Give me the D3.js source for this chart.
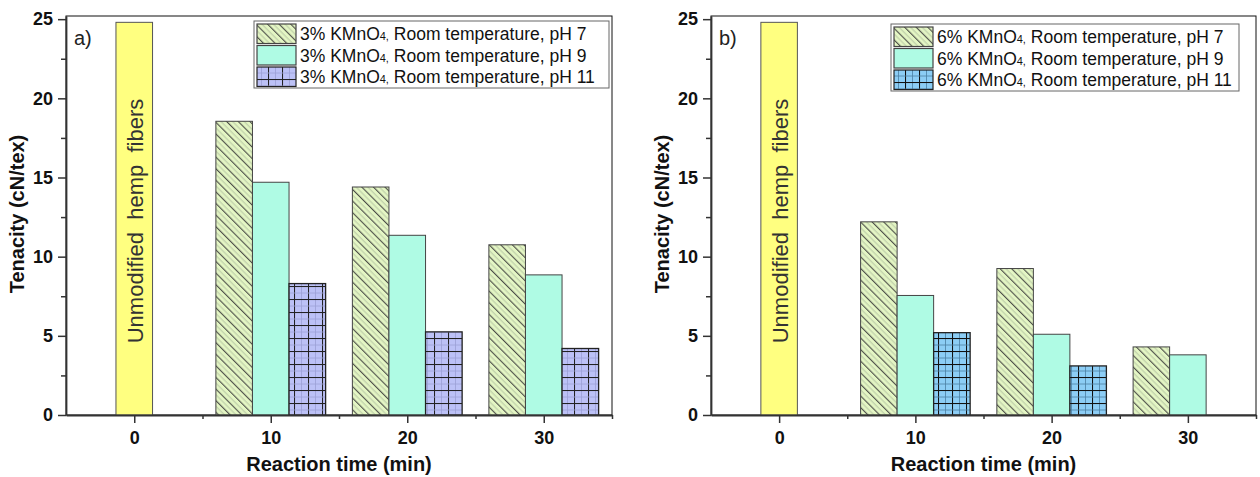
<!DOCTYPE html>
<meta charset="utf-8">
<style>
html, body { margin: 0; padding: 0; background: #fff; overflow: hidden; }
svg { display: block; font-family: "Liberation Sans", Arial, sans-serif; }
.tick text { font-weight: bold; font-size: 18px; fill: #111; }
.title { font-weight: bold; font-size: 20px; fill: #111; }
</style>
<svg width="1260" height="477"></svg>
<script src="https://d3js.org/d3.v7.min.js"></script>
<script>
// values (cN/tex)
var times = [10, 20, 30];
var controlValue = 24.8;
var xTicks = [0, 10, 20, 30];
var xMinor = [5, 15, 25, 35];
var yTicks = [0, 5, 10, 15, 20, 25];
var yMinor = [2.5, 7.5, 12.5, 17.5, 22.5];

var panelA_pH7 = [18.55, 14.4, 10.75];
var panelA_pH9 = [14.7, 11.35, 8.85];
var panelA_pH11 = [8.3, 5.25, 4.2];

var panelB_pH7 = [12.2, 9.25, 4.3];
var panelB_pH9 = [7.55, 5.1, 3.8];
var panelB_pH11 = [5.2, 3.1, null];

var svg = d3.select("svg");
var defs = svg.append("defs");

// diagonal hatch "\\"
var hw = 8.2;
var hatch = defs.append("pattern")
    .attr("id", "hatch")
    .attr("patternUnits", "userSpaceOnUse")
    .attr("width", hw).attr("height", hw)
    .attr("patternTransform", "rotate(-45)");
hatch.append("rect").attr("width", hw).attr("height", hw).attr("fill", "#e4f6c4");
hatch.append("line").attr("x1", 0.6).attr("x2", 0.6).attr("y1", 0).attr("y2", hw)
    .attr("stroke", "#3a3a3a").attr("stroke-width", 1);
hatch.append("line").attr("x1", 4.7).attr("x2", 4.7).attr("y1", 0).attr("y2", hw)
    .attr("stroke", "#b3c1a0").attr("stroke-width", 0.9);

function gridPattern(id, fill, dark, light) {
    var p = defs.append("pattern")
        .attr("id", id)
        .attr("patternUnits", "userSpaceOnUse")
        .attr("width", 14).attr("height", 13);
    p.append("rect").attr("width", 14).attr("height", 13).attr("fill", fill);
    p.append("line").attr("x1", 0.5).attr("x2", 0.5).attr("y1", 0).attr("y2", 13)
        .attr("stroke", dark).attr("stroke-width", 1.1);
    p.append("line").attr("x1", 7.5).attr("x2", 7.5).attr("y1", 0).attr("y2", 13)
        .attr("stroke", light).attr("stroke-width", 0.8);
    p.append("line").attr("x1", 0).attr("x2", 14).attr("y1", 0.5).attr("y2", 0.5)
        .attr("stroke", dark).attr("stroke-width", 1.1);
    p.append("line").attr("x1", 0).attr("x2", 14).attr("y1", 7).attr("y2", 7)
        .attr("stroke", light).attr("stroke-width", 0.8);
}
gridPattern("gridA", "#bcc1f6", "#222", "#9ca0d6");
gridPattern("gridB", "#8ccdf5", "#111", "#4a7fa3");

function drawPanel(opts) {
    var g = svg.append("g");
    var x = d3.scaleLinear().domain([-5, 35]).range([opts.x0, opts.x1]);
    var y = d3.scaleLinear().domain([0, 25.2]).range([415, 16]);
    var bw = x(2.68) - x(0);

    var series = [
        {values: opts.pH7, fill: "url(#hatch)", stroke: "#444", label: "pH 7"},
        {values: opts.pH9, fill: "#affbe4", stroke: "#444", label: "pH 9"},
        {values: opts.pH11, fill: "url(#" + opts.grid + ")", stroke: "#222", label: "pH 11"}
    ];

    // frame
    g.append("rect")
        .attr("x", opts.x0).attr("y", 16)
        .attr("width", opts.x1 - opts.x0).attr("height", 415 - 16)
        .attr("fill", "none").attr("stroke", "#111").attr("stroke-width", 1);

    // control bar
    g.append("rect")
        .attr("x", x(0) - bw / 2).attr("y", y(controlValue))
        .attr("width", bw).attr("height", y(0) - y(controlValue))
        .attr("fill", "#ffff80").attr("stroke", "#555").attr("stroke-width", 1);
    g.append("text")
        .attr("transform", "translate(" + (x(0) + 1) + ",221) rotate(-90)")
        .attr("text-anchor", "middle")
        .attr("dominant-baseline", "central")
        .style("white-space", "pre")
        .attr("font-size", 22).attr("fill", "#333")
        .text("Unmodified  hemp  fibers");

    series.forEach(function(s, i) {
        var data = times.map(function(t, j) { return {t: t, v: s.values[j]}; })
            .filter(function(d) { return d.v != null; });
        g.selectAll(null).data(data).enter().append("rect")
            .attr("x", function(d) { return x(d.t) + (i - 1.5) * bw; })
            .attr("y", function(d) { return y(d.v); })
            .attr("width", bw)
            .attr("height", function(d) { return y(0) - y(d.v); })
            .attr("fill", s.fill)
            .attr("stroke", s.stroke)
            .attr("stroke-width", i == 2 ? 1.3 : 1);
    });

    // axes
    g.append("g").attr("transform", "translate(0,415)")
        .call(d3.axisBottom(x).tickValues(xTicks).tickSize(8).tickSizeOuter(0).tickPadding(8));
    g.append("g").attr("transform", "translate(0,415)")
        .call(d3.axisBottom(x).tickValues(xMinor).tickSize(4).tickFormat("").tickSizeOuter(0))
        .select(".domain").remove();
    g.append("g").attr("transform", "translate(" + opts.x0 + ",0)")
        .call(d3.axisLeft(y).tickValues(yTicks).tickSize(8).tickSizeOuter(0).tickPadding(5));
    g.append("g").attr("transform", "translate(" + opts.x0 + ",0)")
        .call(d3.axisLeft(y).tickValues(yMinor).tickSize(5).tickFormat("").tickSizeOuter(0))
        .select(".domain").remove();
    g.selectAll(".domain").attr("stroke", "#333").attr("stroke-width", 1.8);
    g.selectAll(".tick line").attr("stroke", "#333").attr("stroke-width", 1.5);
    g.selectAll(".tick text").attr("font-size", null).attr("font-family", null);

    g.append("text").attr("class", "title")
        .attr("x", (opts.x0 + opts.x1) / 2).attr("y", 471)
        .attr("text-anchor", "middle")
        .text("Reaction time (min)");
    g.append("text").attr("class", "title")
        .attr("transform", "translate(" + (opts.x0 - 42) + ",214) rotate(-90)")
        .attr("text-anchor", "middle")
        .text("Tenacity (cN/tex)");

    g.append("text")
        .attr("x", opts.x0 + 8).attr("y", 45)
        .attr("font-size", 20).attr("fill", "#222")
        .text(opts.tag);

    // legend
    var lg = g.append("g").attr("transform", "translate(" + opts.lx + "," + opts.ly + ")");
    lg.append("rect")
        .attr("width", opts.lw).attr("height", 67)
        .attr("fill", "#fff").attr("stroke", "#666").attr("stroke-width", 1);
    series.forEach(function(s, i) {
        var row = lg.append("g").attr("transform", "translate(0," + (2 + i * 21.5) + ")");
        row.append("rect")
            .attr("x", 3).attr("y", 1).attr("width", 39).attr("height", 19.5)
            .attr("fill", s.fill).attr("stroke", s.stroke).attr("stroke-width", 1.2);
        var t = row.append("text").attr("x", 46).attr("y", 17)
            .attr("font-size", 17.5).attr("fill", "#111");
        t.append("tspan").text(opts.conc + "% KMnO");
        t.append("tspan").attr("font-size", 11).text("4,");
        t.append("tspan").text(" Room temperature, " + s.label);
    });
}

drawPanel({x0: 66, x1: 612, tag: "a)", conc: 3, grid: "gridA",
    pH7: panelA_pH7, pH9: panelA_pH9, pH11: panelA_pH11,
    lx: 254, ly: 21, lw: 355});
drawPanel({x0: 711, x1: 1256, tag: "b)", conc: 6, grid: "gridB",
    pH7: panelB_pH7, pH9: panelB_pH9, pH11: panelB_pH11,
    lx: 891, ly: 24, lw: 348});
</script>
